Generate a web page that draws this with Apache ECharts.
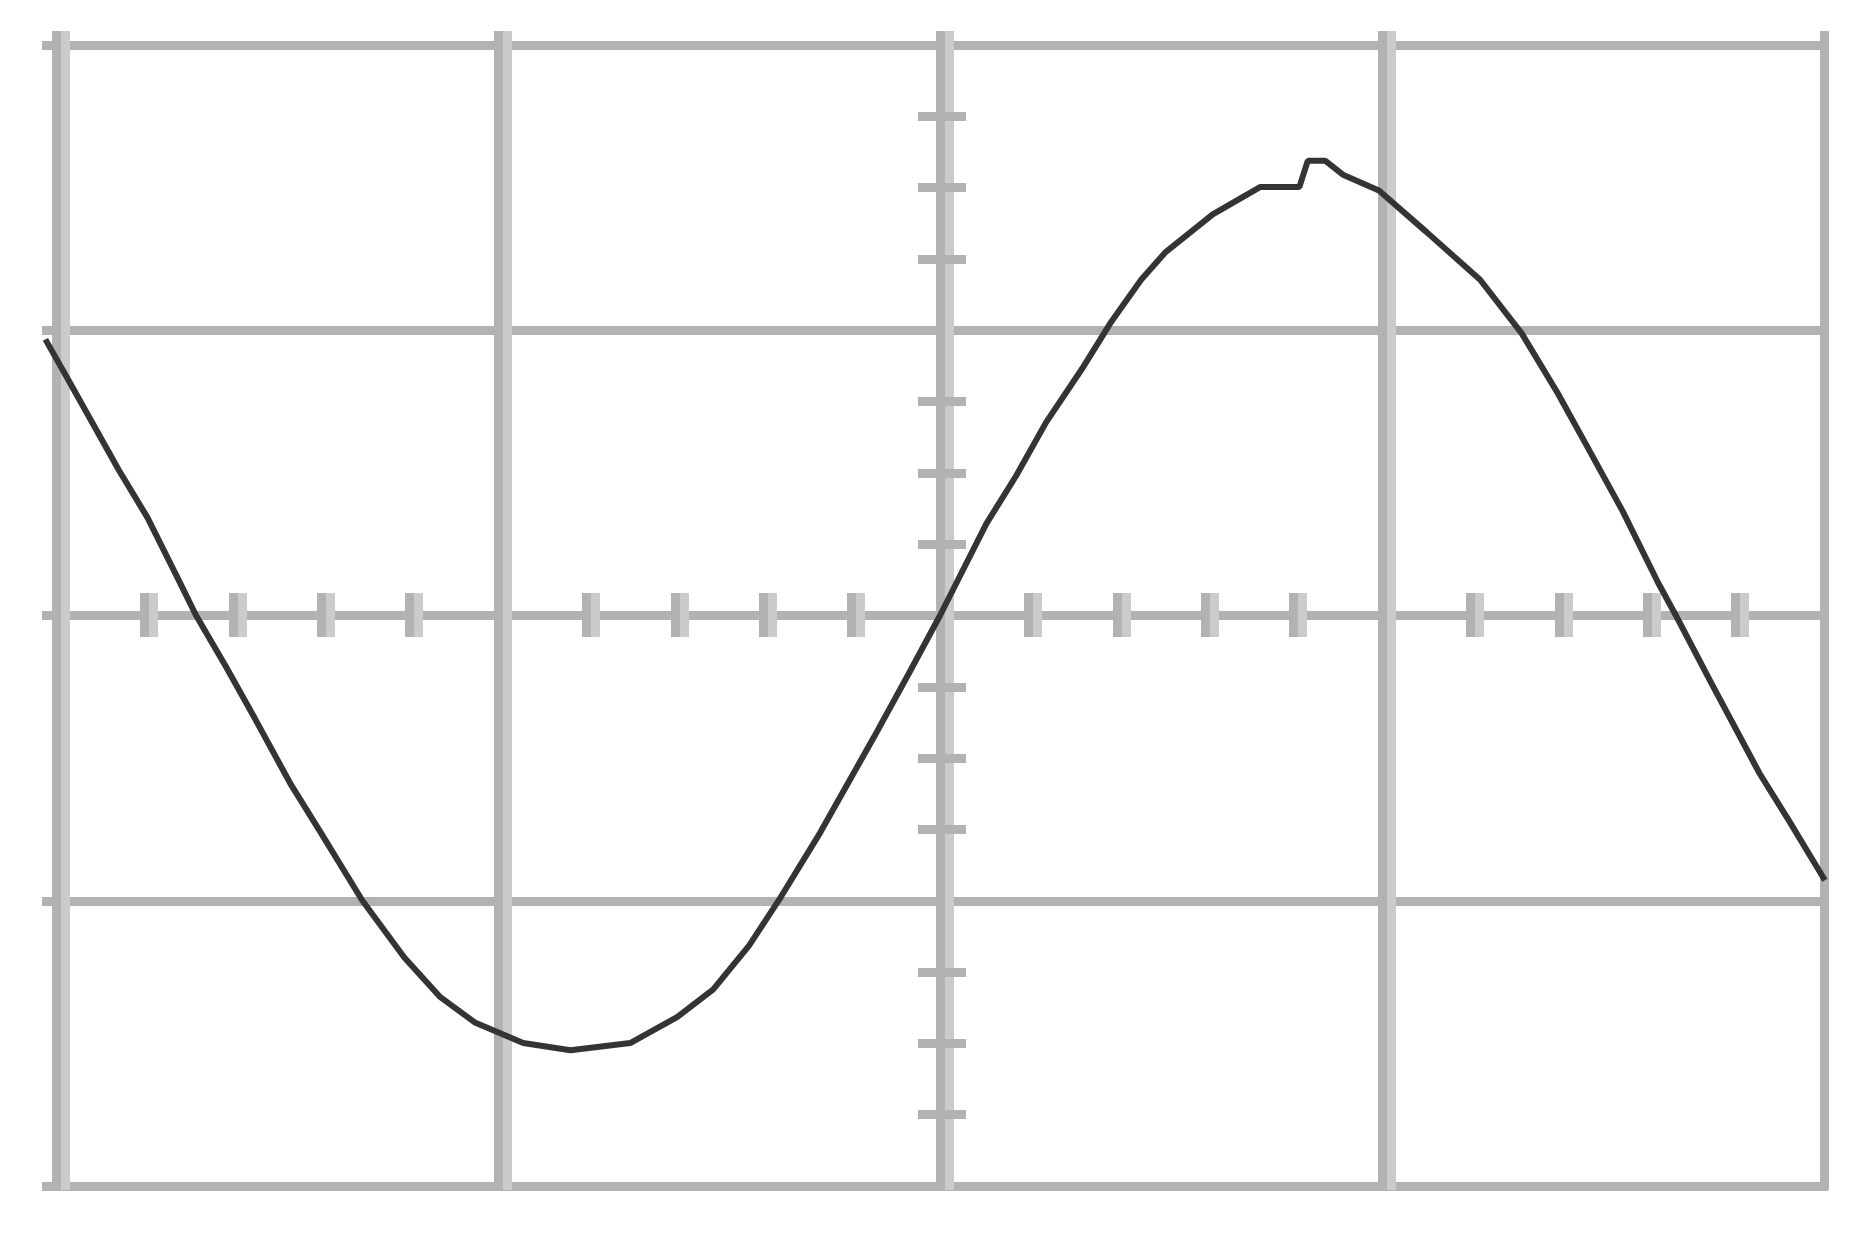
<!DOCTYPE html>
<html>
<head>
<meta charset="utf-8">
<title>Sine trace</title>
<script src="https://cdn.jsdelivr.net/npm/echarts@6/dist/echarts.min.js"></script>
<style>
  html, body { margin: 0; padding: 0; background: #fff; }
  #chart { width: 1864px; height: 1235px; }
</style>
</head>
<body>
<div id="chart"></div>
<script>
// axis range, in grid divisions
const xRange = [-2, 2]
const yRange = [-2, 2]
// the trace starts a touch left of the frame, so its own x axis is a bit wider
const traceRange = [-2.05, 2.05]
const xMinorSplit = 5
const yMinorSplit = 4

// trace (divisions)
const traceX = [-2.024, -1.965, -1.858, -1.793, -1.723, -1.683, -1.616, -1.549, -1.468, -1.401,
  -1.307, -1.212, -1.132, -1.051, -0.943, -0.836, -0.701, -0.594, -0.513, -0.432, -0.365, -0.271,
  -0.15, -0.069, 0, 0.105, 0.172, 0.24, 0.321, 0.388, 0.455, 0.509, 0.617, 0.724, 0.813, 0.832,
  0.872, 0.913, 0.993, 1.101, 1.222, 1.316, 1.397, 1.464, 1.545, 1.625, 1.665, 1.746, 1.854,
  1.921, 2.002]
const traceY = [0.968, 0.806, 0.51, 0.343, 0.126, 0, -0.178, -0.364, -0.594, -0.761,
  -0.999, -1.199, -1.336, -1.428, -1.499, -1.524, -1.499, -1.407, -1.311, -1.157, -0.999, -0.761,
  -0.428, -0.199, 0, 0.322, 0.489, 0.677, 0.864, 1.031, 1.177, 1.272, 1.406, 1.502, 1.502, 1.594,
  1.594, 1.544, 1.49, 1.344, 1.177, 0.989, 0.781, 0.593, 0.364, 0.114, 0, -0.24, -0.553,
  -0.72, -0.928]

const GRID_DARK = '#b2b2b2'
const GRID_LIGHT = '#cbcbcb'
const DIV_X = 442 // px per division across

const hidden = { show: false }

// value axis that draws nothing unless told to
function axis(range, extra) {
  return Object.assign({
    type: 'value',
    min: range[0],
    max: range[1],
    interval: 1,
    axisLine: { show: false, onZero: false },
    axisTick: hidden,
    axisLabel: hidden,
    splitLine: hidden
  }, extra)
}

const grids = [
  // 0 plot area for the trace (x = 0 sits at 940px)
  {
    left: 940 + traceRange[0] * DIV_X,
    top: 45,
    width: (traceRange[1] - traceRange[0]) * DIV_X,
    height: 1141
  },
  // 1 horizontal lines (run a little past the left edge)
  { left: 42, top: 45, width: 1786, height: 1141 },
  // 2 vertical lines, dark half (run a little past the top)
  { left: 56, top: 31, width: 1768, height: 1159 },
  // 3 vertical lines, light half
  { left: 65, top: 31, width: 1768, height: 1159 },
  // 4 minor ticks on the centre horizontal line, dark half
  { left: 56, top: 593, width: 1768, height: 44 },
  // 5 same, light half
  { left: 65, top: 593, width: 1768, height: 44 },
  // 6 minor ticks on the centre vertical line
  { left: 918, top: 45, width: 48, height: 1141 }
]

const traceAxis = axis(traceRange)
delete traceAxis.interval

const xAxes = [
  traceAxis,
  axis(xRange, { gridIndex: 1 }),
  axis(xRange, { gridIndex: 2, splitLine: { show: true, lineStyle: { color: GRID_DARK, width: 9 } } }),
  axis(xRange, {
    gridIndex: 3,
    splitLine: { show: true, showMaxLine: false, lineStyle: { color: GRID_LIGHT, width: 9 } }
  }),
  axis(xRange, {
    gridIndex: 4,
    position: 'bottom',
    axisTick: { show: false, inside: true },
    minorTick: { show: true, splitNumber: xMinorSplit, length: 44, lineStyle: { color: GRID_DARK, width: 9 } }
  }),
  axis(xRange, {
    gridIndex: 5,
    position: 'bottom',
    axisTick: { show: false, inside: true },
    minorTick: { show: true, splitNumber: xMinorSplit, length: 44, lineStyle: { color: GRID_LIGHT, width: 9 } }
  }),
  axis(xRange, { gridIndex: 6 })
]

const yAxes = [
  axis(yRange),
  axis(yRange, { gridIndex: 1, splitLine: { show: true, lineStyle: { color: GRID_DARK, width: 9 } } }),
  axis(yRange, { gridIndex: 2 }),
  axis(yRange, { gridIndex: 3 }),
  axis(yRange, { gridIndex: 4 }),
  axis(yRange, { gridIndex: 5 }),
  axis(yRange, {
    gridIndex: 6,
    position: 'left',
    axisTick: { show: false, inside: true },
    minorTick: { show: true, splitNumber: yMinorSplit, length: 48, lineStyle: { color: GRID_DARK, width: 9 } }
  })
]

const chart = echarts.init(document.getElementById('chart'))
chart.setOption({
  backgroundColor: '#fff',
  animation: false,
  grid: grids,
  xAxis: xAxes,
  yAxis: yAxes,
  visualMap: {
    show: false,
    dimension: 0,
    seriesIndex: 0,
    pieces: [
      { lt: -1.07, color: '#343434' },
      { gte: -1.07, lte: -0.56, color: '#3b3a5a' },
      { gt: -0.56, color: '#343434' }
    ]
  },
  series: [
    {
      type: 'line',
      xAxisIndex: 0,
      yAxisIndex: 0,
      data: traceX.map((x, i) => [x, traceY[i]]),
      symbol: 'none',
      smooth: false,
      z: 10,
      lineStyle: { width: 6, color: '#343434' }
    }
  ]
})
</script>
</body>
</html>
